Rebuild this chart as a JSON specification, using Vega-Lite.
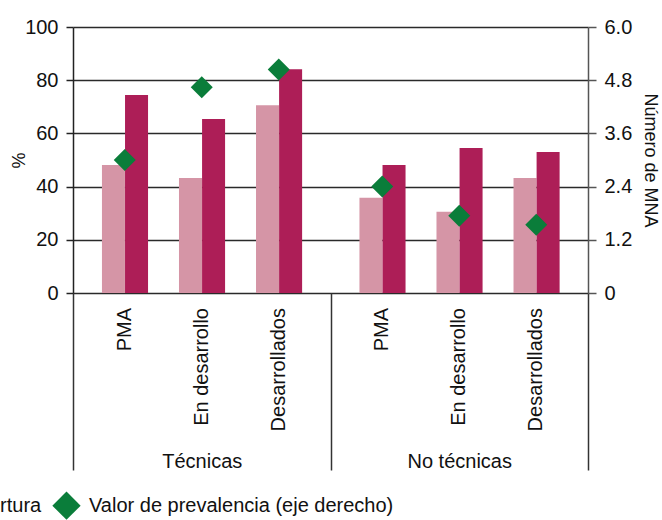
{
  "$schema": "https://vega.github.io/schema/vega-lite/v6.json",
  "width": 515,
  "height": 266,
  "autosize": {"type": "none"},
  "padding": {"left": 73, "top": 27, "right": 74, "bottom": 227},
  "background": "white",
  "config": {
    "font": "Liberation Sans",
    "view": {"stroke": null},
    "axis": {"labelFont": "Liberation Sans", "titleFont": "Liberation Sans"},
    "legend": {"labelFont": "Liberation Sans", "padding": 0},
    "text": {"font": "Liberation Sans"}
  },
  "data": {
    "values": [
      {"grupo": "Técnicas", "categoria": "PMA", "serie": "Índice de frecuencia", "valor": 48.1},
      {"grupo": "Técnicas", "categoria": "PMA", "serie": "Índice de cobertura", "valor": 74.4},
      {"grupo": "Técnicas", "categoria": "PMA", "serie": "Valor de prevalencia (eje derecho)", "valor": 3.0},
      {"grupo": "Técnicas", "categoria": "En desarrollo", "serie": "Índice de frecuencia", "valor": 43.2},
      {"grupo": "Técnicas", "categoria": "En desarrollo", "serie": "Índice de cobertura", "valor": 65.4},
      {"grupo": "Técnicas", "categoria": "En desarrollo", "serie": "Valor de prevalencia (eje derecho)", "valor": 4.64},
      {"grupo": "Técnicas", "categoria": "Desarrollados", "serie": "Índice de frecuencia", "valor": 70.6},
      {"grupo": "Técnicas", "categoria": "Desarrollados", "serie": "Índice de cobertura", "valor": 84.1},
      {"grupo": "Técnicas", "categoria": "Desarrollados", "serie": "Valor de prevalencia (eje derecho)", "valor": 5.04},
      {"grupo": "No técnicas", "categoria": "PMA", "serie": "Índice de frecuencia", "valor": 35.8},
      {"grupo": "No técnicas", "categoria": "PMA", "serie": "Índice de cobertura", "valor": 48.1},
      {"grupo": "No técnicas", "categoria": "PMA", "serie": "Valor de prevalencia (eje derecho)", "valor": 2.4},
      {"grupo": "No técnicas", "categoria": "En desarrollo", "serie": "Índice de frecuencia", "valor": 30.5},
      {"grupo": "No técnicas", "categoria": "En desarrollo", "serie": "Índice de cobertura", "valor": 54.5},
      {"grupo": "No técnicas", "categoria": "En desarrollo", "serie": "Valor de prevalencia (eje derecho)", "valor": 1.74},
      {"grupo": "No técnicas", "categoria": "Desarrollados", "serie": "Índice de frecuencia", "valor": 43.2},
      {"grupo": "No técnicas", "categoria": "Desarrollados", "serie": "Índice de cobertura", "valor": 53.0},
      {"grupo": "No técnicas", "categoria": "Desarrollados", "serie": "Valor de prevalencia (eje derecho)", "valor": 1.54}
    ]
  },
  "layer": [
    {
      "transform": [{"filter": {"field": "serie", "equal": "Índice de frecuencia"}}],
      "mark": {"type": "bar"},
      "encoding": {
        "x": {"field": "grupo", "type": "nominal", "title": null,
          "scale": {"domain": ["Técnicas", "No técnicas"], "paddingInner": 0, "paddingOuter": 0},
          "axis": {"title": null, "orient": "bottom", "domain": false, "ticks": true, "tickBand": "extent", "tickSize": 177, "tickColor": "#333", "tickWidth": 1.5, "labelFontSize": 20, "labelPadding": -18.5, "labelAngle": 0, "labelColor": "#111", "grid": false, "labelOverlap": false}},
        "xOffset": {"field": "categoria", "type": "nominal",
          "scale": {"domain": ["PMA", "En desarrollo", "Desarrollados"], "paddingInner": 0.7013, "paddingOuter": 0.522, "align": 0.36}},
        "y": {"field": "valor", "type": "quantitative",
          "scale": {"domain": [0, 100], "nice": false},
          "axis": {"orient": "left", "values": [0, 20, 40, 60, 80, 100], "title": "%", "titleFontSize": 18, "titleFontWeight": "normal", "titlePadding": -4, "titleColor": "#111", "domainColor": "#222", "domainWidth": 1.5, "tickColor": "#222", "tickWidth": 1.5, "tickSize": 7, "labelFontSize": 20, "labelPadding": 8, "labelColor": "#111", "grid": true, "gridColor": "#2a2a2a", "gridWidth": 1.5}},
        "color": {"field": "serie", "type": "nominal",
          "scale": {"domain": ["Índice de frecuencia", "Índice de cobertura", "Valor de prevalencia (eje derecho)"], "range": ["#d595a6", "#ad1e57", "#0a7d3a"]},
          "legend": {"orient": "none", "legendX": -467, "legendY": 464, "direction": "horizontal", "columns": 3, "title": null, "labelFontSize": 20, "labelLimit": 500, "symbolSize": 800, "labelOffset": 8, "columnPadding": 10, "symbolStrokeWidth": 0, "gridAlign": "each", "labelColor": "#111"}}
      }
    },
    {
      "transform": [{"filter": {"field": "serie", "equal": "Índice de cobertura"}}],
      "mark": {"type": "bar"},
      "encoding": {
        "x": {"field": "grupo", "type": "nominal", "title": null,
          "scale": {"domain": ["Técnicas", "No técnicas"], "paddingInner": 0, "paddingOuter": 0},
          "axis": {"title": null, "orient": "bottom", "domain": false, "ticks": true, "tickBand": "extent", "tickSize": 177, "tickColor": "#333", "tickWidth": 1.5, "labelFontSize": 20, "labelPadding": -18.5, "labelAngle": 0, "labelColor": "#111", "grid": false, "labelOverlap": false}},
        "xOffset": {"field": "categoria", "type": "nominal",
          "scale": {"domain": ["PMA", "En desarrollo", "Desarrollados"], "paddingInner": 0.7013, "paddingOuter": 0.522, "align": 0.647}},
        "y": {"field": "valor", "type": "quantitative",
          "scale": {"domain": [0, 100], "nice": false}, "axis": null},
        "color": {"field": "serie", "type": "nominal",
          "scale": {"domain": ["Índice de frecuencia", "Índice de cobertura", "Valor de prevalencia (eje derecho)"], "range": ["#d595a6", "#ad1e57", "#0a7d3a"]},
          "legend": {"orient": "none", "legendX": -467, "legendY": 464, "direction": "horizontal", "columns": 3, "title": null, "labelFontSize": 20, "labelLimit": 500, "symbolSize": 800, "labelOffset": 8, "columnPadding": 10, "symbolStrokeWidth": 0, "gridAlign": "each", "labelColor": "#111"}}
      }
    },
    {
      "transform": [{"filter": {"field": "serie", "equal": "Valor de prevalencia (eje derecho)"}}],
      "mark": {"type": "point", "filled": true, "size": 484, "opacity": 1},
      "encoding": {
        "x": {"field": "grupo", "type": "nominal", "title": null,
          "scale": {"domain": ["Técnicas", "No técnicas"], "paddingInner": 0, "paddingOuter": 0},
          "axis": {"title": null, "orient": "bottom", "domain": false, "ticks": true, "tickBand": "extent", "tickSize": 177, "tickColor": "#333", "tickWidth": 1.5, "labelFontSize": 20, "labelPadding": -18.5, "labelAngle": 0, "labelColor": "#111", "grid": false, "labelOverlap": false}},
        "xOffset": {"field": "categoria", "type": "nominal",
          "scale": {"type": "point", "domain": ["PMA", "En desarrollo", "Desarrollados"], "padding": 0.672}},
        "y": {"field": "valor", "type": "quantitative",
          "scale": {"domain": [0, 6], "nice": false},
          "axis": {"orient": "right", "values": [0, 1.2, 2.4, 3.6, 4.8, 6], "labelExpr": "datum.value === 0 ? '0' : format(datum.value, '.1f')", "title": "Número de MNA", "titleFontSize": 18, "titleFontWeight": "normal", "titlePadding": 9, "titleColor": "#111", "domainColor": "#555", "domainWidth": 1.5, "tickColor": "#555", "tickWidth": 1.5, "tickSize": 8, "labelFontSize": 20, "labelPadding": 8, "labelColor": "#111", "grid": false}},
        "color": {"field": "serie", "type": "nominal",
          "scale": {"domain": ["Índice de frecuencia", "Índice de cobertura", "Valor de prevalencia (eje derecho)"], "range": ["#d595a6", "#ad1e57", "#0a7d3a"]},
          "legend": {"orient": "none", "legendX": -467, "legendY": 464, "direction": "horizontal", "columns": 3, "title": null, "labelFontSize": 20, "labelLimit": 500, "symbolSize": 800, "labelOffset": 8, "columnPadding": 10, "symbolStrokeWidth": 0, "gridAlign": "each", "labelColor": "#111"}},
        "shape": {"field": "serie", "type": "nominal",
          "scale": {"domain": ["Índice de frecuencia", "Índice de cobertura", "Valor de prevalencia (eje derecho)"], "range": ["square", "square", "diamond"]},
          "legend": {"orient": "none", "legendX": -467, "legendY": 464, "direction": "horizontal", "columns": 3, "title": null, "labelFontSize": 20, "labelLimit": 500, "symbolSize": 800, "labelOffset": 8, "columnPadding": 10, "symbolStrokeWidth": 0, "gridAlign": "each", "labelColor": "#111"}}
      }
    },
    {
      "transform": [{"filter": {"field": "serie", "equal": "Valor de prevalencia (eje derecho)"}}],
      "mark": {"type": "text", "angle": 270, "align": "right", "baseline": "middle", "dx": -15, "fontSize": 20, "color": "#111"},
      "encoding": {
        "x": {"field": "grupo", "type": "nominal", "title": null,
          "scale": {"domain": ["Técnicas", "No técnicas"], "paddingInner": 0, "paddingOuter": 0},
          "axis": {"title": null, "orient": "bottom", "domain": false, "ticks": true, "tickBand": "extent", "tickSize": 177, "tickColor": "#333", "tickWidth": 1.5, "labelFontSize": 20, "labelPadding": -18.5, "labelAngle": 0, "labelColor": "#111", "grid": false, "labelOverlap": false}},
        "xOffset": {"field": "categoria", "type": "nominal",
          "scale": {"type": "point", "domain": ["PMA", "En desarrollo", "Desarrollados"], "padding": 0.672}},
        "y": {"datum": 0, "type": "quantitative", "scale": {"domain": [0, 100], "nice": false}, "axis": null},
        "text": {"field": "categoria", "type": "nominal"}
      }
    }
  ],
  "resolve": {"scale": {"y": "independent", "xOffset": "independent"}}
}
